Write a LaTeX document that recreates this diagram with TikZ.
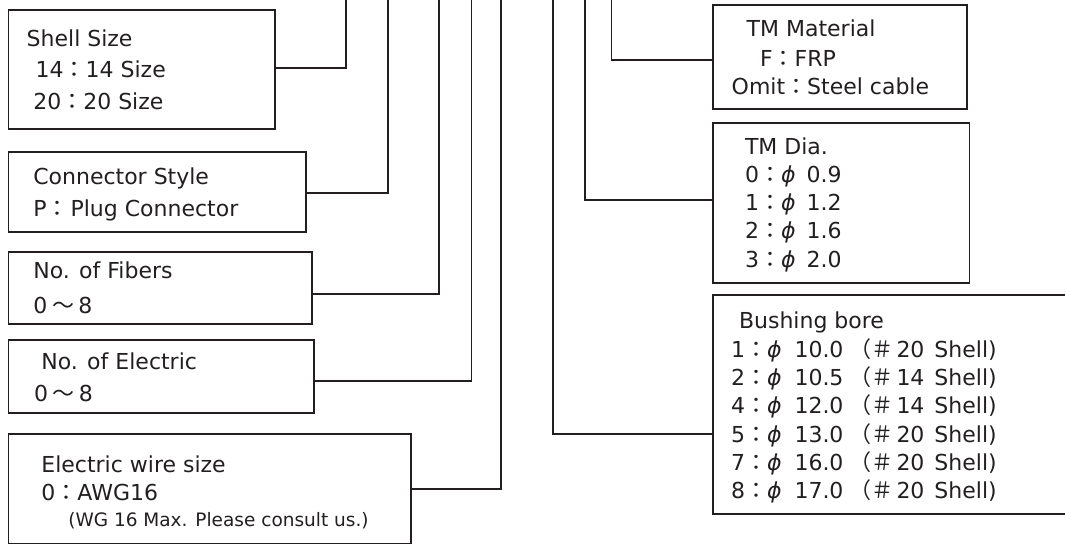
\documentclass[tikz,border=0pt]{standalone}
\usepackage{fontspec}
\setmainfont{DejaVu Sans}
\newfontfamily\jpf{Noto Sans CJK JP}
\definecolor{ink}{HTML}{231F20}
\newcommand{\fc}{{\jpf ：}}
\newcommand{\ftl}{\hspace{5pt}{\jpf ～}\hspace{4pt}}
\newcommand{\phis}{\textit{ϕ}}
\newcommand{\bore}[3]{#1\fc\phis\hspace{13pt}#2\hspace{6pt}{\jpf （＃}\hspace{3pt}#3\hspace{10pt}Shell)}
\begin{document}
\begin{tikzpicture}[x=1pt,y=-1pt,
  every node/.style={inner sep=0pt, outer sep=0pt},
  box/.style={draw=ink, line width=1.6pt, anchor=north west},
  txt/.style={anchor=base west, text=ink, font=\fontsize{22}{26}\selectfont},
  small/.style={anchor=base west, text=ink, font=\fontsize{18.5}{22}\selectfont},
  wire/.style={draw=ink, line width=1.6pt}]
\useasboundingbox (0,0) rectangle (1065,545);

% ---------- left boxes ----------
\node[box, minimum width=266.5pt, minimum height=119pt] (shell) at (8.5,10) {};
\node[box, minimum width=297.5pt, minimum height=80pt]  (style) at (8.5,152) {};
\node[box, minimum width=303.5pt, minimum height=72pt]  (fib)   at (8.5,252) {};
\node[box, minimum width=305.5pt, minimum height=73pt]  (elec)  at (8.5,340) {};
\node[box, minimum width=402.5pt, minimum height=109.5pt] (wsz) at (8.5,434) {};

% ---------- right boxes ----------
\node[box, minimum width=254pt, minimum height=104pt] (tmm) at (713,5) {};
\node[box, minimum width=256.5pt, minimum height=160pt] (tmd) at (713,123) {};
\node[box, minimum width=367pt, minimum height=219pt] (bush) at (713,295) {};

% ---------- connector bends and free ends ----------
\coordinate (b1) at (346,68);   \coordinate (t1) at (346,-3);
\coordinate (b2) at (388,193);  \coordinate (t2) at (388,-3);
\coordinate (b3) at (439,294);  \coordinate (t3) at (439,-3);
\coordinate (b4) at (471.5,381);\coordinate (t4) at (471.5,-3);
\coordinate (b5) at (501,489);  \coordinate (t5) at (501,-3);
\coordinate (b6) at (611.5,60); \coordinate (t6) at (611.5,-3);
\coordinate (b7) at (585,200);  \coordinate (t7) at (585,-3);
\coordinate (b8) at (553,434);  \coordinate (t8) at (553,-3);

\draw[wire] (b1 -| shell.east) -- (b1) -- (t1);
\draw[wire] (b2 -| style.east) -- (b2) -- (t2);
\draw[wire] (b3 -| fib.east)   -- (b3) -- (t3);
\draw[wire] (b4 -| elec.east)  -- (b4) -- (t4);
\draw[wire] (b5 -| wsz.east)   -- (b5) -- (t5);
\draw[wire] (b6 -| tmm.west)   -- (b6) -- (t6);
\draw[wire] (b7 -| tmd.west)   -- (b7) -- (t7);
\draw[wire] (b8 -| bush.west)  -- (b8) -- (t8);

% ---------- texts ----------
\node[txt] (s1) at (26.7,47)  {Shell Size};
\node[txt] (s2) at (35.7,78)  {14\fc 14 Size};
\node[txt] (s3) at (33.3,110) {20\fc 20 Size};

\node[txt] (c1) at (33.3,185) {Connector Style};
\node[txt] (c2) at (33.3,217) {P\fc\hspace{2pt}Plug Connector};

\node[txt] (f1) at (33.3,279) {No. of Fibers};
\node[txt] (f2) at (33.3,313) {0\ftl 8};

\node[txt] (e1) at (41.4,369) {No. of Electric};
\node[txt] (e2) at (34,401)   {0\ftl 8};

\node[txt]   (w1) at (41.4,472) {Electric wire size};
\node[txt]   (w2) at (41.4,500) {0\fc AWG16};
\node[small] (w3) at (68.3,526) {(WG 16 Max. Please consult us.)};

\node[txt] (m1) at (746.7,37) {TM Material};
\node[txt] (m2) at (760,67)   {F\fc FRP};
\node[txt] (m3) at (731.7,95) {Omit\fc Steel cable};

\node[txt] (d1) at (745,155)   {TM Dia.};
\node[txt] (d2) at (745,182.3) {0\fc\phis\hspace{11pt}0.9};
\node[txt] (d3) at (745,210.7) {1\fc\phis\hspace{11pt}1.2};
\node[txt] (d4) at (745,239)   {2\fc\phis\hspace{11pt}1.6};
\node[txt] (d5) at (745,267.3) {3\fc\phis\hspace{11pt}2.0};

\node[txt] (u0) at (739,328)   {Bushing bore};
\node[txt] (u1) at (731,357)   {\bore{1}{10.0}{20}};
\node[txt] (u2) at (731,385)   {\bore{2}{10.5}{14}};
\node[txt] (u3) at (731,413.3) {\bore{4}{12.0}{14}};
\node[txt] (u4) at (731,442)   {\bore{5}{13.0}{20}};
\node[txt] (u5) at (731,470)   {\bore{7}{16.0}{20}};
\node[txt] (u6) at (731,498.3) {\bore{8}{17.0}{20}};
\end{tikzpicture}
\end{document}
